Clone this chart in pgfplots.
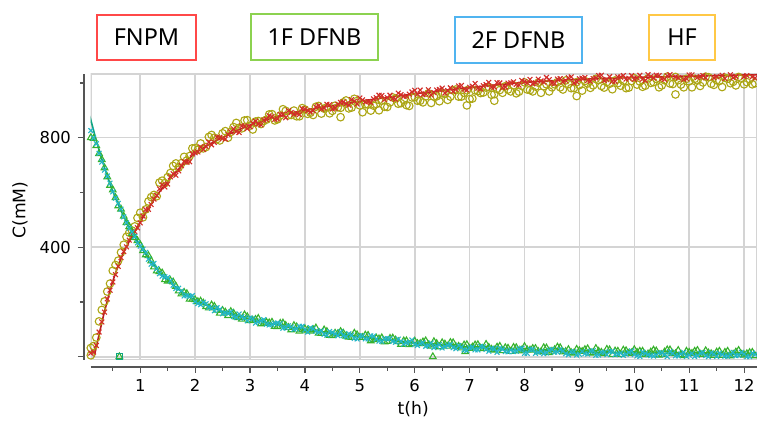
\documentclass[border=0pt]{standalone}
\usepackage{pgfplots}
\usepackage{pgfplotstable}
\pgfplotsset{compat=1.18}
\usepackage{fontspec}
\setmainfont{DejaVu Sans}
\newfontfamily\legfont{Noto Sans}
\definecolor{cFNPM}{RGB}{210,45,40}
\definecolor{cFNPMline}{RGB}{185,30,30}
\definecolor{cHF}{RGB}{172,166,20}
\definecolor{cA}{RGB}{55,178,45}
\definecolor{cB}{RGB}{35,182,200}
\definecolor{cFitG}{RGB}{15,165,130}
\definecolor{bRed}{RGB}{255,72,72}
\definecolor{bGreen}{RGB}{140,210,80}
\definecolor{bBlue}{RGB}{80,180,240}
\definecolor{bYellow}{RGB}{255,200,70}
\definecolor{gridgray}{RGB}{212,212,212}
\definecolor{axgray}{RGB}{85,85,85}

\pgfplotstableread{
t R H A B
0.1 13 32 800 826
0.2 41 70 771 778
0.3 127 171 720 711
0.4 211 238 657 660
0.5 273 314 609 602
0.6 330 351 551 560
0.7 384 409 513 511
0.8 426 453 475 469
0.9 457 476 435 439
1.0 489 526 409 404
1.1 537 538 372 381
1.2 556 583 350 338
1.3 589 586 313 322
1.4 628 643 306 294
1.5 631 656 276 289
1.6 668 697 273 261
1.7 679 691 240 250
1.8 713 730 235 222
1.9 712 733 210 221
2.0 745 762 208 201
2.1 766 779 203 190
2.2 768 766 183 193
2.3 774 810 189 177
2.4 802 795 170 179
2.5 797 816 169 157
2.6 811 800 150 159
2.7 832 839 159 147
2.8 819 836 143 156
2.9 842 863 153 141
3.0 840 844 132 142
3.1 860 859 136 123
3.2 847 850 120 131
3.3 867 866 126 119
3.4 877 886 126 117
3.5 869 867 110 123
3.6 885 904 123 104
3.7 899 882 107 113
3.8 886 899 114 100
3.9 885 878 93 111
4.0 904 903 102 98
4.1 894 891 93 106
4.2 912 913 105 93
4.3 904 888 85 95
4.4 922 911 92 79
4.5 905 898 77 88
4.6 922 911 84 77
4.7 930 929 86 77
4.8 919 907 71 84
4.9 933 942 86 67
5.0 945 918 70 76
5.1 931 922 79 65
5.2 928 899 58 76
5.3 946 923 68 64
5.4 954 935 69 56
5.5 946 912 56 66
5.6 943 947 68 56
5.7 963 924 55 64
5.8 951 938 58 46
5.9 959 916 44 53
6.0 973 948 57 45
6.1 974 935 48 48
6.2 960 951 58 38
6.3 956 927 38 50
6.4 974 951 48 38
6.5 981 962 51 32
6.6 972 938 38 42
6.7 969 973 51 33
6.8 989 950 38 41
6.9 977 964 43 25
7.0 984 941 30 33
7.1 998 973 43 25
7.2 978 963 31 38
7.3 994 983 45 27
7.4 985 957 27 31
7.5 1001 978 35 16
7.6 983 964 22 27
7.7 999 976 31 18
7.8 1004 991 34 19
7.9 992 968 21 28
8.0 1005 1002 37 12
8.1 1013 974 24 27
8.2 1000 987 30 12
8.3 1007 964 17 20
8.4 1020 995 32 14
8.5 999 984 20 27
8.6 1014 1003 35 17
8.7 1004 976 17 21
8.8 1019 996 26 7
8.9 1000 981 13 18
9.0 1015 992 22 9
9.1 1020 1007 26 11
9.2 1006 982 13 20
9.3 1018 1015 30 5
9.4 1028 989 16 16
9.5 1012 1003 27 7
9.6 1006 977 8 20
9.7 1022 999 20 10
9.8 1027 1008 24 5
9.9 1017 983 12 16
10.0 1013 1017 26 8
10.1 1028 1005 20 1
10.2 1009 990 7 12
10.3 1023 1000 17 4
10.4 1028 1015 21 6
10.5 1015 991 8 15
10.6 1026 1023 25 0
10.7 1035 996 12 12
10.8 1019 1010 23 3
10.9 1013 984 4 16
11.0 1029 1006 16 6
11.1 1034 1015 20 1
11.2 1023 989 9 13
11.3 1019 1023 22 4
11.4 1036 997 11 14
11.5 1023 1010 17 1
11.6 1028 985 5 8
11.7 1040 1015 20 2
11.8 1019 1004 9 16
11.9 1033 1022 23 5
12.0 1023 995 6 10
12.1 1037 1014 15 0
12.2 1018 999 3 8
}\datatable

\pgfplotstableread{
t R H A B
0.15 17 39 797 799
0.25 90 129 742 743
0.35 163 202 690 682
0.45 243 267 626 634
0.55 300 335 581 579
0.65 362 381 539 539
0.75 401 438 490 489
0.85 446 461 450 455
0.95 471 507 424 416
1.05 514 509 387 393
1.15 538 567 369 356
1.25 576 591 328 341
1.35 613 636 311 303
1.45 620 634 281 292
1.55 657 671 278 277
1.65 663 706 257 249
1.75 698 707 229 240
1.85 710 717 230 223
1.95 741 761 210 223
2.05 748 756 201 194
2.15 757 761 196 199
2.25 784 803 178 181
2.35 783 800 184 168
2.45 801 790 159 173
2.55 795 824 163 160
2.65 821 821 165 164
2.75 822 854 145 143
2.85 843 834 137 146
2.95 833 864 146 131
3.05 853 830 133 139
3.15 850 861 140 127
3.25 864 861 122 135
3.35 880 885 124 116
3.45 867 863 111 122
3.55 885 881 122 121
3.65 873 898 114 106
3.75 892 883 98 109
3.85 889 878 109 102
3.95 906 908 98 111
4.05 899 887 97 90
4.15 899 883 99 102
4.25 917 916 86 89
4.35 909 906 98 82
4.45 920 889 78 92
4.55 908 917 86 83
4.65 929 909 92 91
4.75 924 936 75 73
4.85 939 910 70 79
4.95 923 934 80 65
5.05 938 893 70 76
5.15 932 921 78 65
5.25 942 917 62 75
5.35 955 938 65 57
5.45 939 913 54 65
5.55 955 929 67 66
5.65 940 943 61 53
5.75 957 926 45 56
5.85 952 919 58 51
5.95 967 947 48 61
6.05 959 935 48 41
6.15 957 929 54 51
6.25 975 962 43 40
6.35 965 950 55 33
6.45 976 933 36 44
6.55 963 960 46 37
6.65 982 950 52 45
6.75 976 976 37 29
6.85 991 950 32 35
6.95 974 973 44 23
7.05 988 943 35 35
7.15 981 970 44 25
7.25 990 965 29 36
7.35 1002 985 34 20
7.45 985 959 24 29
7.55 1000 974 38 31
7.65 985 988 33 19
7.75 1000 969 19 24
7.85 995 962 33 20
7.95 1009 989 24 31
8.05 1000 976 25 12
8.15 997 969 30 27
8.25 1014 1001 19 16
8.35 1003 988 33 11
8.45 1012 969 15 23
8.55 998 995 26 17
8.65 1016 984 33 26
8.75 1009 1009 19 11
8.85 1022 981 15 18
8.95 1004 1003 27 6
9.05 1017 972 19 19
9.15 1009 998 29 10
9.25 1016 991 15 22
9.35 1027 1010 20 6
9.45 1009 983 11 16
9.55 1023 997 25 18
9.65 1006 1009 21 7
9.75 1021 990 8 13
9.85 1014 981 22 9
9.95 1027 1007 14 21
10.05 1018 994 16 3
10.15 1014 986 20 17
10.25 1030 1017 10 7
10.35 1018 1003 24 2
10.45 1027 984 6 14
10.55 1013 1010 17 8
10.65 1030 998 25 18
10.75 1022 1022 11 3
10.85 1035 994 7 10
10.95 1016 1015 20 1
11.05 1029 984 12 12
11.15 1020 1009 23 4
11.25 1027 1002 8 15
11.35 1038 1021 14 0
11.45 1019 993 5 10
11.55 1033 1007 20 13
11.65 1016 1019 16 2
11.75 1030 999 3 8
11.85 1024 991 17 4
11.95 1036 1016 9 16
12.05 1027 1003 11 0
12.15 1023 995 16 13
}\datatableb

\pgfplotstableread{
t R
0.16 0
0.25 80
0.35 165
0.5 275
0.7 382
1.0 492
1.3 588
1.6 663
2.0 743
2.5 801
3.0 846
3.5 877
4.0 900
5.0 933
6.0 960
7.0 983
8.0 1002
9.0 1013
10.0 1020
11.0 1025
12.0 1029
12.3 1030
}\fitR

\pgfplotstableread{
t G
0.08 880
0.12 850
0.2 790
0.3 722
0.4 660
0.5 605
0.7 512
1.0 405
1.3 321
1.6 262
2.0 207
2.5 165
3.0 138
3.5 117
4.0 100
5.0 73
6.0 50
7.0 35
8.0 24
9.0 18
10.0 14
11.0 11
12.0 9
12.3 9
}\fitG

\begin{document}
\begin{tikzpicture}
\useasboundingbox (0,0) rectangle (378.5pt,210.5pt);
\begin{axis}[
  at={(45.35pt,30.5pt)}, anchor=south west,
  scale only axis, width=333.15pt, height=143pt,
  xmin=0.098, xmax=12.235, ymin=-12, ymax=1032.7,
  axis lines=left,
  axis line style={-, draw=axgray, line width=0.6pt},
  axis x line shift=3.5pt,
  axis y line shift=3.35pt,
  xtick={1,2,...,12},
  minor xtick={0.5,1.5,...,11.5},
  ytick={0,400,800},
  yticklabels={,400,800},
  minor ytick={200,600,1000},
  tick align=outside,
  major tick length=3pt,
  minor tick length=2pt,
  tick style={draw=axgray, line width=0.6pt},
  xmajorgrids, ymajorgrids,
  major grid style={draw=gridgray, line width=0.8pt},
  /pgf/number format/assume math mode=true,
  tick label style={font=\fontsize{8.2}{10}\selectfont, text=black},
  xticklabel style={yshift=0.5pt},
  xlabel={t(h)},
  ylabel={C(mM)},
  label style={font=\fontsize{8.6}{10}\selectfont},
  xlabel style={at={(axis description cs:0.484,-0.171)}, anchor=center},
  ylabel style={at={(axis description cs:-0.106,0.524)}, anchor=center},
  mark options={solid, line width=0.55pt},
]
\draw[gridgray, line width=0.8pt] (rel axis cs:0,0) rectangle (rel axis cs:1,1);
\addplot[only marks, mark=o, mark size=1.9pt, draw=cHF] table[x=t, y=H] {\datatable};
\addplot[only marks, mark=o, mark size=1.9pt, draw=cHF] table[x=t, y=H] {\datatableb};
\addplot[only marks, mark=o, mark size=1.9pt, draw=cHF] coordinates {(4.65,875) (5.35,900) (6.95,918) (7.45,935) (8.95,952) (10.75,958) (0.1,5)};
\addplot[only marks, mark=x, mark size=1.7pt, draw=cFNPM] table[x=t, y=R] {\datatable};
\addplot[only marks, mark=x, mark size=1.7pt, draw=cFNPM] table[x=t, y=R] {\datatableb};
\addplot[cFNPMline, line width=0.8pt, smooth] table[x=t, y=R] {\fitR};
\addplot[only marks, mark=triangle, mark size=1.9pt, draw=cA] table[x=t, y=A] {\datatable};
\addplot[only marks, mark=triangle, mark size=1.9pt, draw=cA] table[x=t, y=A] {\datatableb};
\addplot[only marks, mark=triangle, mark size=1.9pt, draw=cA] coordinates {(0.62,0) (6.33,0) (6.92,18)};
\addplot[only marks, mark=x, mark size=1.7pt, draw=cB] table[x=t, y=B] {\datatable};
\addplot[only marks, mark=x, mark size=1.7pt, draw=cB] table[x=t, y=B] {\datatableb};
\addplot[only marks, mark=square, mark size=1.4pt, draw=cFitG] coordinates {(0.62,0)};
\addplot[cFitG, line width=0.8pt, smooth] table[x=t, y=G] {\fitG};
\end{axis}
\begin{scope}[every node/.style={draw, line width=0.7pt, inner sep=0pt, font=\legfont\fontsize{11.7}{14}\selectfont, text=black}]
\node[draw=bRed, minimum width=49.5pt, minimum height=22.5pt] at (73.25pt,191.75pt) {FNPM};
\node[draw=bGreen, minimum width=63.5pt, minimum height=23pt] at (157.25pt,192pt) {1F DFNB};
\node[draw=bBlue, minimum width=63.5pt, minimum height=23pt] at (259.25pt,190.5pt) {2F DFNB};
\node[draw=bYellow, minimum width=33pt, minimum height=22.5pt] at (341pt,191.75pt) {HF};
\end{scope}
\end{tikzpicture}
\end{document}
